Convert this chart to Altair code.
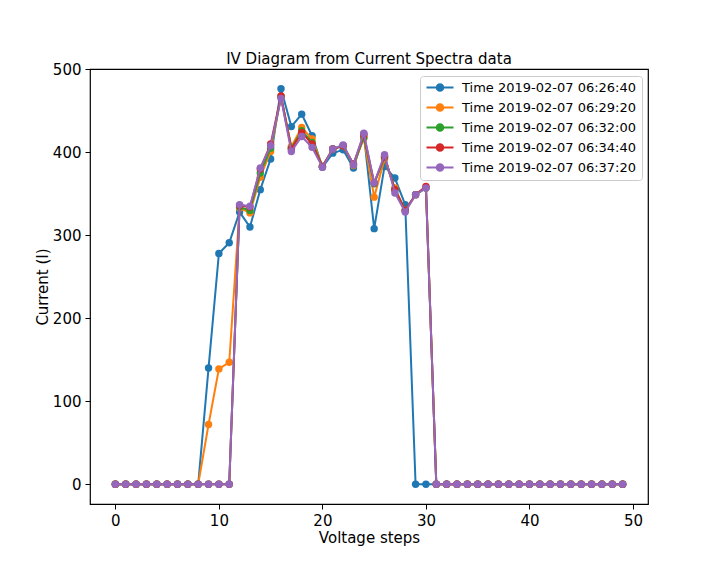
import altair as alt
import pandas as pd

steps = list(range(50))
labels = [
    "Time 2019-02-07 06:26:40",
    "Time 2019-02-07 06:29:20",
    "Time 2019-02-07 06:32:00",
    "Time 2019-02-07 06:34:40",
    "Time 2019-02-07 06:37:20",
]
colors = ["#1f77b4", "#ff7f0e", "#2ca02c", "#d62728", "#9467bd"]

zeros19 = [0] * 19
s1 = [0, 0, 0, 0, 0, 0, 0, 0, 0, 140, 278, 291, 328, 310, 355, 392, 476.6, 431, 446, 420,
      382, 399, 403, 381, 422, 308, 383, 369, 337, 0, 0] + zeros19
s2 = [0, 0, 0, 0, 0, 0, 0, 0, 0, 72, 139, 147, 333, 327, 370, 401, 467, 407, 430, 416,
      383, 404, 408, 384, 417, 346, 392, 357, 330, 349, 357] + zeros19
s3 = [0, 0, 0, 0, 0, 0, 0, 0, 0, 0, 0, 0, 334, 330, 375, 405, 467, 405, 426, 412,
      383, 404, 408, 385, 418, 362, 394, 355, 330, 349, 357] + zeros19
s4 = [0, 0, 0, 0, 0, 0, 0, 0, 0, 0, 0, 0, 336, 334, 380, 410, 468, 404, 424, 410,
      383, 404, 408, 386, 421, 363, 395, 355, 330, 349, 359] + zeros19
s5 = [0, 0, 0, 0, 0, 0, 0, 0, 0, 0, 0, 0, 337, 335, 381, 408, 465, 401, 419, 406,
      382, 404, 409, 385, 423, 363, 397, 351, 328, 349, 357] + zeros19
series = [s1, s2, s3, s4, s5]

rows = []
for lab, vals in zip(labels, series):
    for x, v in zip(steps, vals):
        rows.append({"step": x, "current": v, "series": lab})
df = pd.DataFrame(rows)

FONT = "DejaVu Sans"

color = alt.Color(
    "series:N",
    scale=alt.Scale(domain=labels, range=colors),
    sort=labels,
    legend=alt.Legend(
        title=None,
        orient="none",
        legendX=330,
        legendY=7,
        symbolType="M-1,0H4.4M2.36,0A0.66,0.66 0 1,1 1.04,0A0.66,0.66 0 1,1 2.36,0Z",
        symbolSize=100,
        symbolStrokeWidth=2,
        labelFontSize=13,
        labelFont=FONT,
        labelColor="#000000",
        labelOffset=24,
        labelLimit=400,
        rowPadding=5,
        padding=5,
        strokeColor="#cccccc",
        fillColor="#ffffff",
        cornerRadius=3,
        offset=0,
    ),
)

x = alt.X(
    "step:Q",
    scale=alt.Scale(domain=[-2.45, 51.45], nice=False, zero=False),
    axis=alt.Axis(values=[0, 10, 20, 30, 40, 50], title="Voltage steps"),
)
y = alt.Y(
    "current:Q",
    scale=alt.Scale(domain=[-23.8, 500.4], nice=False, zero=False),
    axis=alt.Axis(values=[0, 100, 200, 300, 400, 500], title="Current (I)"),
)

layers = []
for lab in labels:
    base = alt.Chart(df).transform_filter(alt.datum.series == lab).encode(x=x, y=y, color=color)
    layers.append(base.mark_line(strokeWidth=2))
    layers.append(base.mark_point(filled=True, size=55, opacity=1, shape="circle"))

chart = alt.layer(*layers).properties(
    width=558,
    height=435,
    title=alt.Title("IV Diagram from Current Spectra data", fontSize=15, font=FONT,
                    fontWeight="normal", color="#000000", offset=5, frame="group", dy=10),
    autosize=alt.AutoSizeParams(type="none"),
    padding={"left": 82, "top": 61, "right": 64, "bottom": 64},
).configure_view(
    stroke="#000000", strokeWidth=1.2
).configure_axis(
    grid=False,
    domain=False,
    tickColor="#000000",
    tickSize=5,
    tickWidth=1,
    labelFontSize=15,
    labelFont=FONT,
    labelColor="#000000",
    labelPadding=4,
    titleFontSize=15,
    titleFont=FONT,
    titleFontWeight="normal",
    titleColor="#000000",
).configure_axisX(
    titlePadding=2,
).configure_axisY(
    titlePadding=2,
)

chart.save("out.html", embed_options={"renderer": "svg", "actions": False})
